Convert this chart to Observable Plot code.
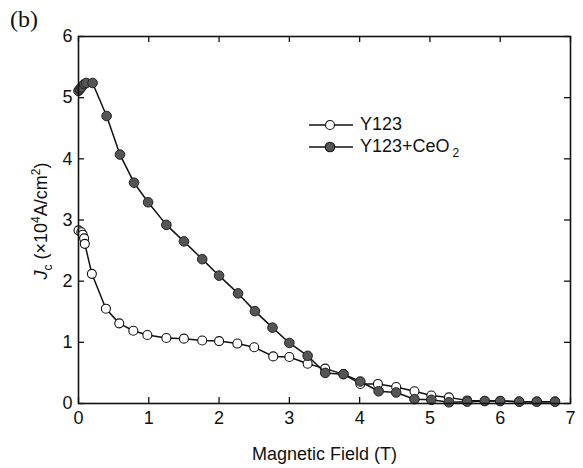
<!DOCTYPE html>
<html><head><meta charset="utf-8">
<script src="https://cdn.jsdelivr.net/npm/d3@7"></script>
<script src="https://cdn.jsdelivr.net/npm/@observablehq/plot@0.6"></script>
<style>
body{margin:0;background:#fff}
#wrap{position:relative;width:583px;height:468px;font-family:"Liberation Sans",Arial,sans-serif;color:#111}
#wrap svg{position:absolute;left:0;top:0}
.ov{position:absolute;white-space:nowrap}
</style>
</head><body><div id="wrap"></div>
<script>
// Data
const fieldY123 = [0.00,0.04,0.06,0.08,0.09,0.19,0.39,0.58,0.78,0.98,1.25,1.50,1.76,2.00,2.26,2.50,2.77,3.00,3.26,3.51,3.77,4.01,4.26,4.52,4.78,5.02,5.27,5.53,5.78,6.00,6.27,6.52,6.78];
const jcY123    = [2.83,2.80,2.76,2.70,2.61,2.12,1.55,1.31,1.19,1.12,1.07,1.06,1.03,1.02,0.98,0.92,0.77,0.76,0.65,0.57,0.48,0.32,0.32,0.27,0.20,0.13,0.10,0.05,0.04,0.04,0.03,0.03,0.03];
const fieldCeO2 = [0.00,0.02,0.04,0.08,0.11,0.20,0.40,0.59,0.79,0.99,1.25,1.50,1.76,2.00,2.27,2.51,2.76,3.00,3.26,3.51,3.77,4.01,4.27,4.52,4.78,5.02,5.27,5.53,5.78,6.00,6.27,6.52,6.78];
const jcCeO2    = [5.11,5.14,5.17,5.22,5.24,5.24,4.70,4.07,3.61,3.29,2.92,2.65,2.36,2.09,1.80,1.51,1.24,0.99,0.78,0.50,0.48,0.36,0.20,0.18,0.07,0.06,0.02,0.03,0.04,0.04,0.03,0.03,0.03];
const xTicks = [0,1,2,3,4,5,6,7];
const yTicks = [0,1,2,3,4,5,6];
const seriesNames = ["Y123", "Y123+CeO"];
const xTitle = "Magnetic Field (T)";

const y123 = fieldY123.map((x,i)=>({x, y: jcY123[i]}));
const ceo2 = fieldCeO2.map((x,i)=>({x, y: jcCeO2[i]}));

const W = 583, H = 468, mL = 78, mR = 13, mT = 36, mB = 65;
const pw = W - mL - mR, ph = H - mT - mB, tl = 6;
const font = "Liberation Sans, Arial, sans-serif";

const chart = Plot.plot({
  width: W, height: H,
  marginLeft: mL, marginRight: mR, marginTop: mT, marginBottom: mB,
  style: {fontFamily: font, fontSize: "18px", color: "#111", background: "white"},
  x: {domain: [0, 7]},
  y: {domain: [0, 6]},
  marks: [
    Plot.axisX({ticks: xTicks, tickFormat: d => String(d), tickSize: 0, tickPadding: 8, fontSize: 18, label: xTitle, labelAnchor: "center", labelOffset: 56, labelArrow: "none"}),
    Plot.axisY({ticks: yTicks, tickFormat: d => String(d), tickSize: 0, tickPadding: 6, fontSize: 18, label: null}),
    Plot.tickX(xTicks, {x: d=>d, insetTop: ph - tl, stroke: "#111", strokeWidth: 1.3}),
    Plot.tickX(xTicks, {x: d=>d, insetBottom: ph - tl, stroke: "#111", strokeWidth: 1.3}),
    Plot.tickY(yTicks, {y: d=>d, insetRight: pw - tl, stroke: "#111", strokeWidth: 1.3}),
    Plot.tickY(yTicks, {y: d=>d, insetLeft: pw - tl, stroke: "#111", strokeWidth: 1.3}),
    Plot.line(y123, {x: "x", y: "y", stroke: "#111", strokeWidth: 1.5}),
    Plot.dot(y123, {x: "x", y: "y", r: 4.5, fill: "white", stroke: "#111", strokeWidth: 1.1}),
    Plot.line(ceo2, {x: "x", y: "y", stroke: "#111", strokeWidth: 1.5}),
    Plot.dot(ceo2, {x: "x", y: "y", r: 4.8, fill: "#555", stroke: "#222", strokeWidth: 1}),
    Plot.frame({stroke: "#111", strokeWidth: 1.6})
  ]
});

const wrap = document.getElementById("wrap");
wrap.appendChild(chart);

function ov(html, css){ const d = document.createElement("div"); d.className = "ov"; d.innerHTML = html; d.style.cssText += css; wrap.appendChild(d); return d; }

ov("(b)", "left:10px;top:6px;font-family:'Liberation Serif','DejaVu Serif',serif;font-size:24px;");

ov('<i>J</i><sub style="font-size:12px">c</sub> (×10<sup style="font-size:12px">4</sup>A/cm<sup style="font-size:12px">2</sup>)',
   "left:42px;top:221px;font-size:18px;transform:translate(-50%,-50%) rotate(-90deg);transform-origin:center;");

function legendRow(name, fill, top, sub){
  const svg = `<svg width="44" height="14" style="position:absolute;left:0;top:0"><line x1="0" y1="7" x2="44" y2="7" stroke="#111" stroke-width="1.5"/><circle cx="21" cy="7" r="${fill==='white'?4.5:4.8}" fill="${fill}" stroke="#111" stroke-width="1.1"/></svg>`;
  ov(svg + `<span style="position:absolute;left:51px;top:-4px;font-size:18px">${name}${sub ? '<sub style="font-size:12px;margin-left:3px">2</sub>' : ''}</span>`,
     `left:309px;top:${top}px;width:150px;height:14px;`);
}
legendRow(seriesNames[0], "white", 118, false);
legendRow(seriesNames[1], "#555", 140, true);
</script>
</body></html>
